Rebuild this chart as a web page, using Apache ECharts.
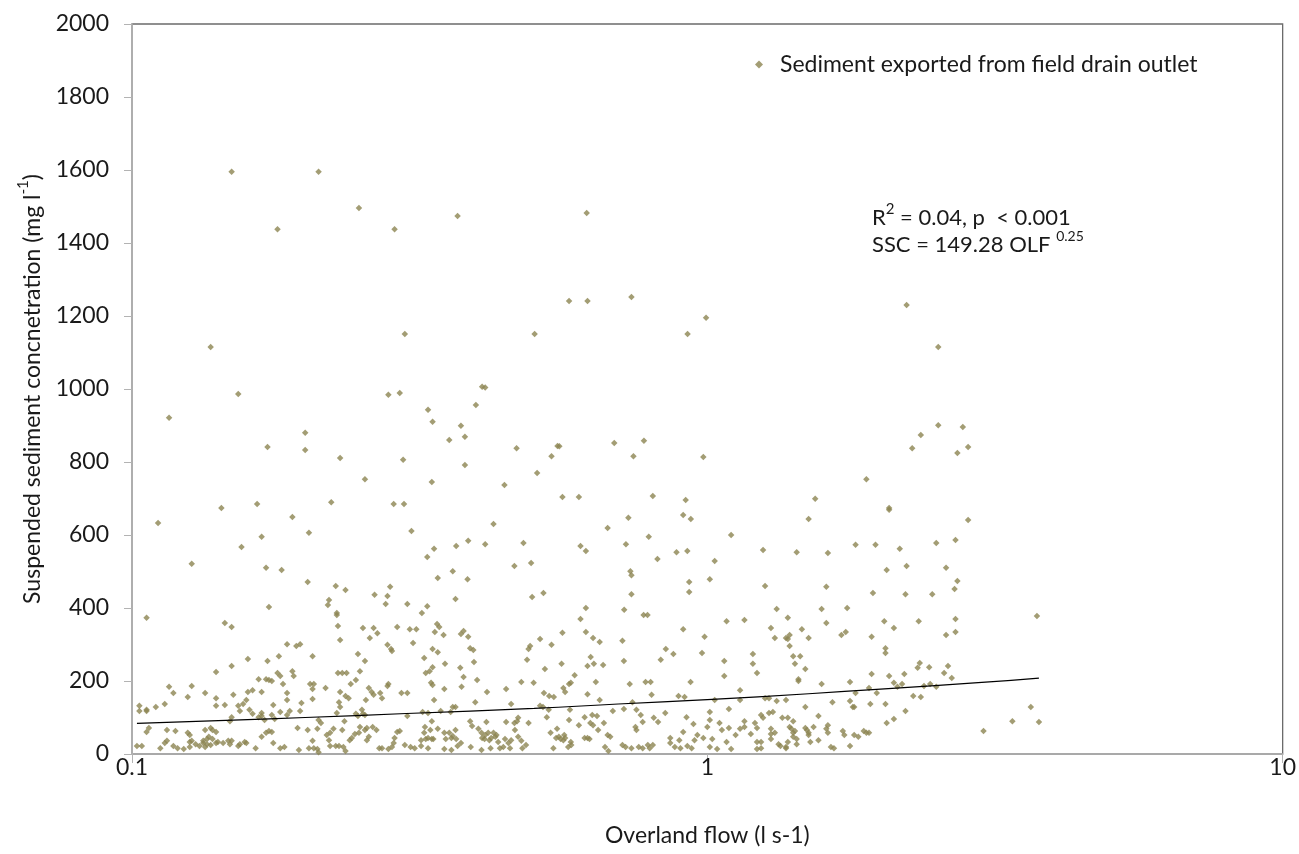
<!DOCTYPE html>
<html><head><meta charset="utf-8">
<script src="https://cdn.jsdelivr.net/npm/echarts@6/dist/echarts.min.js"></script>
<style>html,body{margin:0;padding:0;background:#fff}#c{width:1299px;height:854px}</style>
</head><body><div id="c"></div>
<script>
// [overland flow (l s-1), SSC (mg l-1)]
const highPoints = [
[0.149,1595],[0.211,1595],[0.179,1438],[0.248,1496],[0.286,1438],[0.368,1474],[0.617,1482],[0.575,1241],[0.619,1241],[0.738,1252],[0.995,1195],[2.22,1230],[0.137,1115],[0.298,1151],[0.501,1151],[0.924,1151],[2.52,1115],
[0.116,921],[0.153,986],[0.172,841],[0.200,880],[0.200,833],[0.230,811],[0.254,753],[0.279,984],[0.292,989],[0.327,943],[0.296,806],[0.143,674],[0.165,685],[0.222,690],[0.285,685],[0.297,685],
[0.406,1006],[0.411,1004],[0.396,956],[0.333,910],[0.373,899],[0.379,869],[0.356,860],[0.379,792],[0.466,838],[0.549,844],[0.553,843],[0.536,816],[0.506,770],[0.689,852],[0.776,858],[0.744,816],[0.984,814],[0.332,745],[0.444,737],[0.560,704],[0.598,704],[0.804,707],[0.917,696],
[2.52,901],[2.78,896],[2.35,874],[2.27,838],[2.72,825],[2.84,841],[1.89,753],[1.54,699],[2.07,674]
];
const farPoints = [[3.74,378],[3.65,129],[3.39,90],[3.77,88],[3.02,63]];
const lowLeftPoints = [
[0.111,633],[0.190,649],[0.203,606],[0.168,595],[0.155,567],[0.127,521],[0.171,510],[0.182,504],[0.306,611],[0.202,471],[0.226,460],[0.235,449],[0.220,422],[0.219,408],[0.173,403],[0.106,373],[0.145,359],[0.149,348],[0.227,386],[0.227,381],[0.228,351],[0.230,312],[0.264,436],[0.278,433],[0.281,458],[0.276,411],[0.301,411],[0.319,386],[0.263,345],[0.267,331],[0.259,318],[0.252,345],[0.289,348],[0.304,342],[0.312,342],[0.308,304],[0.278,299],[0.282,288],[0.283,282],[0.322,263],[0.324,222],
[0.186,301],[0.193,296],[0.196,301],[0.180,268],[0.159,260],[0.172,255],[0.149,241],[0.140,225],[0.206,268],[0.190,227],[0.191,214],[0.179,222],[0.181,214],[0.183,192],[0.166,205],[0.171,205],[0.173,203],[0.175,200],[0.159,170],[0.162,175],[0.168,170],[0.150,162],[0.153,132],[0.156,137],[0.158,148],[0.160,121],[0.154,118],[0.149,101],[0.148,90],[0.162,110],[0.166,101],[0.168,112],[0.168,104],[0.170,93],[0.176,134],[0.177,96],[0.186,107],[0.206,151],[0.204,192],[0.207,192],[0.206,178],[0.217,181],[0.197,140],[0.196,118],[0.188,118],[0.186,148],[0.140,153],[0.140,132],[0.145,134],[0.134,167],[0.127,186],[0.125,156],[0.116,184],[0.118,167],[0.114,137],[0.110,129],[0.106,121],[0.106,118],[0.103,132],[0.103,118],
[0.107,71],[0.106,60],[0.115,66],[0.119,63],[0.125,58],[0.126,52],[0.134,66],[0.137,71],[0.138,66],[0.140,60],[0.136,47],[0.102,22],[0.104,22],[0.112,16],[0.114,30],[0.115,36],[0.118,22],[0.120,16],[0.123,14],[0.126,33],[0.127,36],[0.126,19],[0.129,27],[0.131,22],[0.133,30],[0.133,36],[0.135,41],[0.138,41],[0.134,19],[0.137,25],[0.135,27],[0.140,30],[0.141,33],[0.144,30],[0.149,36],[0.147,36],[0.148,27],[0.153,22],[0.154,27],[0.157,33],[0.158,30],[0.164,16],[0.168,47],[0.171,58],[0.173,63],[0.175,60],[0.176,30],[0.181,16],[0.184,19],[0.195,11],[0.194,71],[0.202,66],[0.206,36],[0.203,16],[0.207,16],[0.210,14],[0.211,5],[0.211,93],[0.213,85],[0.210,69],[0.218,52],[0.220,38],[0.221,58],[0.224,69],[0.221,22],[0.226,22],[0.229,22],[0.233,19],[0.235,8],[0.232,66],[0.234,90],[0.239,38],[0.241,44],[0.244,55],[0.248,58],[0.249,74],[0.254,66],[0.256,38],[0.258,47],[0.262,74],[0.266,66],[0.256,71],[0.269,16],[0.272,16],[0.279,14],[0.283,19],[0.285,30],[0.286,44],[0.289,60],[0.292,63],[0.301,104],[0.298,25],[0.305,19],[0.310,16],[0.318,22],[0.318,38],[0.322,58],[0.323,74],[0.324,41],[0.320,115],
[0.301,167],[0.294,167],[0.279,192],[0.278,186],[0.270,167],[0.272,153],[0.261,170],[0.263,162],[0.258,181],[0.255,148],[0.251,121],[0.245,110],[0.247,104],[0.252,110],[0.254,107],[0.235,159],[0.238,153],[0.230,170],[0.228,222],[0.232,222],[0.236,222],[0.240,192],[0.245,203],[0.249,227],[0.254,255],[0.247,274],[0.229,142],[0.230,129],[0.227,112],[0.186,167],[0.175,107],[0.181,115]
];
const lowMidPoints = [
[0.425,630],[0.384,584],[0.366,570],[0.335,562],[0.411,575],[0.326,540],[0.361,501],[0.340,482],[0.383,479],[0.365,425],[0.326,405],[0.339,356],[0.342,348],[0.336,334],[0.348,326],[0.373,329],[0.377,337],[0.384,321],[0.333,288],[0.340,279],[0.387,290],[0.392,285],[0.350,247],[0.393,252],[0.333,238],[0.329,227],[0.372,236],[0.377,211],[0.331,195],[0.333,189],[0.374,184],[0.349,178],[0.398,203],[0.335,148],[0.365,129],[0.395,142],[0.414,170],
[0.462,515],[0.479,578],[0.494,523],[0.496,430],[0.519,441],[0.512,315],[0.492,296],[0.489,288],[0.486,258],[0.536,299],[0.560,332],[0.522,233],[0.558,247],[0.499,195],[0.475,197],[0.447,178],[0.520,167],[0.531,159],[0.541,156],[0.562,181],[0.566,170],[0.575,192],[0.579,195],[0.588,216],[0.602,370],[0.615,400],[0.602,570],[0.615,556],[0.615,334],[0.633,318],[0.650,307],[0.627,266],[0.635,247],[0.619,241],[0.659,244],[0.619,164],[0.640,197],[0.650,148],
[0.671,619],[0.729,647],[0.722,575],[0.735,501],[0.738,490],[0.738,438],[0.717,395],[0.775,381],[0.787,381],[0.791,595],[0.819,534],[0.884,553],[0.908,655],[0.923,556],[0.936,644],[0.930,471],[0.930,444],[0.908,342],[1.01,479],[1.03,529],[0.989,321],[0.979,277],[0.935,197],[0.891,159],[0.913,156],[0.830,258],[0.847,288],[0.873,274],[0.800,162],[0.781,197],[0.797,197],[0.733,192],[0.716,255],[0.712,310],[0.741,142],
[0.327,112],[0.344,118],[0.358,115],[0.361,129],[0.332,90],[0.330,66],[0.327,44],[0.332,41],[0.334,41],[0.327,16],[0.340,69],[0.349,58],[0.356,58],[0.351,41],[0.359,44],[0.365,66],[0.361,49],[0.366,41],[0.373,30],[0.368,22],[0.349,14],[0.359,11],
[0.387,90],[0.390,77],[0.388,19],[0.400,69],[0.405,58],[0.406,44],[0.410,41],[0.411,52],[0.413,88],[0.416,58],[0.418,38],[0.421,44],[0.425,58],[0.430,52],[0.428,47],[0.405,11],[0.420,16],
[0.433,33],[0.445,41],[0.451,30],[0.456,38],[0.469,47],[0.475,36],[0.463,66],[0.467,90],[0.469,99],[0.462,85],[0.447,88],[0.456,137],[0.436,16],[0.454,16],[0.477,16],[0.442,19],[0.484,25],[0.489,85],[0.512,132],[0.518,129],[0.526,101],[0.530,121],
[0.534,58],[0.540,16],[0.548,69],[0.546,44],[0.552,47],[0.556,41],[0.564,52],[0.562,38],[0.566,44],[0.575,93],[0.577,121],[0.579,33],[0.573,19],[0.580,25],
[0.598,79],[0.612,101],[0.612,44],[0.624,41],[0.619,44],[0.631,107],[0.626,85],[0.633,79],[0.643,104],[0.646,66],[0.661,85],[0.671,52],[0.664,19],[0.673,8],[0.678,47],[0.685,118],[0.716,123],[0.721,19],[0.712,25],[0.738,16],[0.750,74],[0.753,66],[0.760,19],[0.772,16],[0.753,121],[0.766,107],[0.772,88],[0.788,25],[0.794,16],[0.804,25],
[0.807,99],[0.821,88],[0.845,112],[0.862,44],[0.862,30],[0.878,19],[0.894,38],[0.898,16],[0.908,60],[0.920,101],[0.923,22],[0.939,16],[0.946,82],[0.950,38],[0.961,52],[0.984,44],[1.00,74],[1.01,115],[1.01,93],[1.02,41],[1.01,19],[1.03,148]
];
const lowRightPoints = [
[1.50,644],[2.07,669],[2.84,641],[1.10,600],[1.25,559],[1.43,553],[1.62,551],[1.81,573],[1.96,573],[2.16,562],[2.50,578],[2.70,586],[2.60,510],[2.72,474],[2.69,452],[2.22,515],[2.05,504],[1.94,441],[2.21,438],[2.46,438],[1.26,460],[1.61,458],[1.32,397],[1.58,397],[1.75,400],
[1.08,364],[1.16,367],[1.29,345],[1.38,373],[1.31,318],[1.37,318],[1.38,315],[1.39,326],[1.46,342],[1.50,318],[1.61,359],[1.71,326],[1.74,334],[1.93,321],[2.03,364],[2.11,345],[2.33,364],[2.70,370],[2.70,334],[2.60,326],[2.04,290],[2.04,277],
[1.39,296],[1.41,268],[1.45,268],[1.42,247],[1.48,233],[1.44,205],[1.44,200],[1.07,255],[1.07,214],[1.20,274],[1.20,247],[1.22,222],[1.14,175],[1.58,192],[1.77,197],[1.93,219],[2.07,214],[2.11,195],[2.18,192],[2.14,184],[2.20,219],[2.32,236],[2.34,249],[2.43,238],[2.58,222],[2.62,241],[2.66,208],[2.44,192],[2.50,184],[2.38,186],[2.28,159],[2.35,156],[1.97,167],[1.81,167],
[2.04,137],[2.21,118],[2.11,96],[2.05,85],[1.92,137],[1.91,181],[1.77,145],[1.79,129],[1.80,129],[1.65,142],[1.56,104],[1.48,129],[1.37,148],[1.32,145],[1.28,153],[1.26,153],[1.24,107],[1.28,112],[1.30,115],[1.14,148],[1.09,123],
[1.05,85],[1.06,66],[1.09,71],[1.08,33],[1.10,14],[1.04,14],[1.12,52],[1.14,69],[1.16,90],[1.16,74],[1.19,55],[1.21,85],[1.22,71],[1.22,33],[1.22,14],[1.24,33],[1.24,16],[1.25,99],[1.29,69],[1.29,55],[1.29,41],[1.31,58],[1.33,27],[1.34,22],[1.35,99],[1.37,19],[1.37,16],[1.38,33],[1.38,99],[1.39,74],[1.40,69],[1.41,90],[1.41,58],[1.41,47],[1.42,63],[1.43,41],[1.43,27],
[1.48,71],[1.49,66],[1.50,58],[1.50,52],[1.53,74],[1.56,38],[1.51,33],[1.61,69],[1.62,79],[1.62,58],[1.64,19],[1.66,16],[1.72,63],[1.73,52],[1.77,22],[1.80,52],[1.83,47],[1.87,63],[1.89,58],[1.91,58]
];
// power trend line SSC = 149.28 OLF^0.25, read at sample flows
const trendOlf = [0.102, 0.15, 0.2, 0.3, 0.5, 0.7, 1, 1.5, 2, 3, 3.77];
const trendSsc = [84, 93, 100, 111, 125, 137, 149, 165, 178, 196, 208];
const xTickLabels = ['0.1', '1', '10'];
const seriesName = 'Sediment exported from field drain outlet';

const allPoints = highPoints.concat(farPoints, lowLeftPoints, lowMidPoints, lowRightPoints);
const trendData = trendOlf.map((x, i) => [x, trendSsc[i]]);
const FONT = 'Lato';
const TXT = '#1a1a1a';
const FS = 23;

const chart = echarts.init(document.getElementById('c'), null, {renderer: 'canvas'});
chart.setOption({
  backgroundColor: '#ffffff',
  animation: false,
  textStyle: {fontFamily: FONT},
  grid: {left: 132, right: 11, top: 24, bottom: 100, show: true, borderColor: '#6b6b6b', borderWidth: 1.3, backgroundColor: 'transparent'},
  legend: {
    data: [seriesName], left: 750, top: 48, itemWidth: 8, itemHeight: 8,
    icon: 'diamond',
    textStyle: {fontFamily: FONT, fontSize: FS, color: TXT, padding: [0, 0, 0, 12]}
  },
  xAxis: {
    type: 'log', logBase: 10, min: 0.1, max: 10,
    name: 'Overland flow (l s-1)', nameLocation: 'middle', nameGap: 70,
    nameTextStyle: {fontFamily: FONT, fontSize: FS, color: TXT},
    axisLine: {show: true, onZero: false, lineStyle: {color: '#b3b3b3', width: 1.5}},
    axisTick: {show: true, length: 9, lineStyle: {color: '#b3b3b3'}},
    minorTick: {show: false},
    splitLine: {show: false},
    axisLabel: {margin: 2, fontFamily: FONT, fontSize: FS, color: TXT,
      formatter: v => { const i = Math.round(Math.log10(v)) + 1; return xTickLabels[i] !== undefined ? xTickLabels[i] : String(v); }}
  },
  yAxis: {
    type: 'value', min: 0, max: 2000, interval: 200,
    name: '{a|Suspended sediment concnetration (mg l}{s|-1}{a|)}',
    nameLocation: 'middle', nameGap: 88, nameRotate: 90,
    nameTextStyle: {fontFamily: FONT, fontSize: FS, color: TXT,
      rich: {a: {fontFamily: FONT, fontSize: FS, color: TXT, verticalAlign: 'bottom', lineHeight: 28},
             s: {fontFamily: FONT, fontSize: 15, color: TXT, verticalAlign: 'top', lineHeight: 28}}},
    axisLine: {show: true, lineStyle: {color: '#b3b3b3', width: 1.5}},
    axisTick: {show: true, length: 8, lineStyle: {color: '#b3b3b3'}},
    splitLine: {show: false},
    axisLabel: {margin: 23, fontFamily: FONT, fontSize: FS, color: TXT, formatter: v => String(v)}
  },
  series: [
    {name: seriesName, type: 'scatter', symbol: 'diamond', symbolSize: 6.5,
     itemStyle: {color: '#8c8451'}, data: allPoints, z: 3},
    {name: 'trend', type: 'line', data: trendData, smooth: true, symbol: 'none',
     lineStyle: {color: '#000000', width: 1.2}, z: 4, silent: true}
  ],
  graphic: [
    {type: 'text', left: 872, top: 202, z: 10,
     style: {text: '{a|R}{s|2}{a| = 0.04, p  < 0.001}',
       rich: {a: {fontFamily: FONT, fontSize: 22, fill: TXT, verticalAlign: 'bottom', lineHeight: 27},
              s: {fontFamily: FONT, fontSize: 15, fill: TXT, verticalAlign: 'top', lineHeight: 27}}}},
    {type: 'text', left: 872, top: 229, z: 10,
     style: {text: '{a|SSC = 149.28 OLF }{s|0.25}',
       rich: {a: {fontFamily: FONT, fontSize: 22, fill: TXT, verticalAlign: 'bottom', lineHeight: 27},
              s: {fontFamily: FONT, fontSize: 14, fill: TXT, verticalAlign: 'top', lineHeight: 27}}}}
  ]
});
</script></body></html>
